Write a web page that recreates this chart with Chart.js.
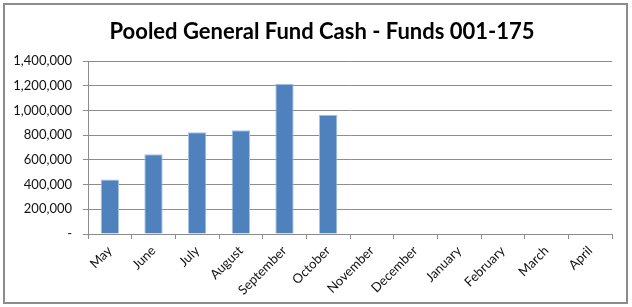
<!DOCTYPE html>
<html>
<head>
<meta charset="utf-8">
<script src="https://cdn.jsdelivr.net/npm/chart.js@4.4.0/dist/chart.umd.min.js"></script>
<style>
  html, body { margin: 0; padding: 0; background: #fff; }
  #wrap { position: relative; width: 632px; height: 307px; }
  #frame { position: absolute; left: 3px; top: 3px; width: 625px; height: 301px; border: 2px solid #8c8c8c; box-sizing: border-box; pointer-events: none; }
  canvas { position: absolute; left: 0; top: 0; }
</style>
</head>
<body>
<div id="wrap">
  <canvas id="myChart" width="632" height="307"></canvas>
  <div id="frame"></div>
</div>
<script>
// Pooled cash by month (fiscal year May - April)
const months = ['May', 'June', 'July', 'August', 'September', 'October', 'November', 'December', 'January', 'February', 'March', 'April'];
const cashValues = [442000, 645000, 823000, 839000, 1216000, 965000, null, null, null, null, null, null];
const yTicks = [0, 200000, 400000, 600000, 800000, 1000000, 1200000, 1400000];

const chartTitle = 'Pooled General Fund Cash - Funds 001-175';

const fmt = (v) => v === 0 ? '-' : v.toLocaleString('en-US');

const chartCanvas = document.getElementById('myChart');

// title drawn centred on the whole frame, not on the padded chart box
const titlePlugin = {
    id: 'frameTitle',
    afterDraw: (chart) => {
        const ctx = chart.ctx;
        ctx.save();
        ctx.font = 'bold 22px Lato';
        ctx.fillStyle = '#000';
        ctx.textAlign = 'center';
        ctx.textBaseline = 'middle';
        ctx.fillText(chartTitle, 322, 32);
        ctx.restore();
    }
};

new Chart(chartCanvas, {
    type: 'bar',
    data: {
        labels: months,
        datasets: [{
            data: cashValues,
            backgroundColor: '#4f81bd',
            borderColor: '#a8c2e3',
            borderWidth: 1,
            barPercentage: 0.42,
            categoryPercentage: 1
        }]
    },
    plugins: [titlePlugin],
    options: {
        responsive: false,
        animation: false,
        layout: { padding: { left: 0, right: 20, top: 61, bottom: 0 } },
        plugins: {
            legend: { display: false },
            tooltip: { enabled: false },
            title: { display: false }
        },
        scales: {
            x: {
                afterFit: (s) => { s.height = 73; },
                grid: { drawOnChartArea: false, color: '#8c8c8c', tickLength: 5, offset: true },
                border: { color: '#8c8c8c' },
                ticks: {
                    color: '#111',
                    font: { family: 'Lato', size: 13 },
                    maxRotation: 45,
                    minRotation: 45,
                    padding: 4
                }
            },
            y: {
                min: 0,
                max: 1400000,
                afterFit: (s) => { s.width = 88; },
                afterBuildTicks: (s) => { s.ticks = yTicks.map(v => ({ value: v })); },
                grid: { color: '#8c8c8c', tickLength: 5 },
                border: { color: '#8c8c8c' },
                ticks: {
                    color: '#111',
                    font: { family: 'Lato', size: 13 },
                    padding: 11,
                    callback: (v) => fmt(v)
                }
            }
        }
    }
});
</script>
</body>
</html>
